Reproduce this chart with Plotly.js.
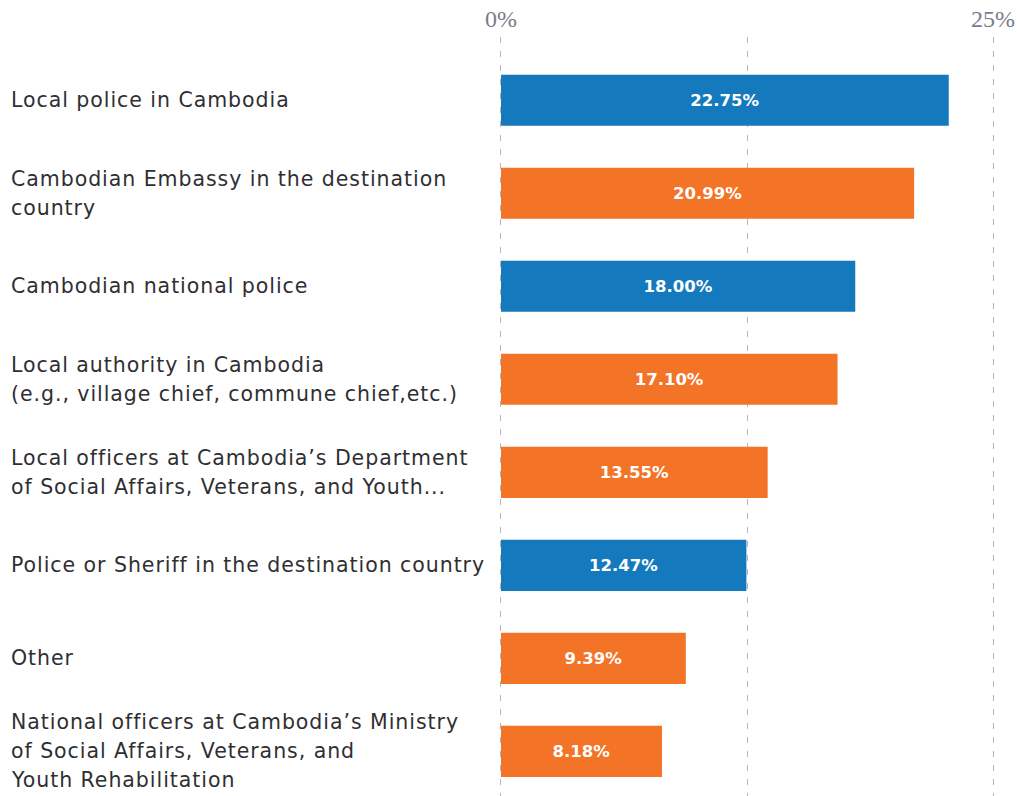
<!DOCTYPE html>
<html><head><meta charset="utf-8">
<script src="https://cdn.plot.ly/plotly-3.0.1.min.js"></script>
<style>
html,body{margin:0;padding:0;background:#fff}
.annotation-text{letter-spacing:0.95px}
</style>
</head><body>
<div id="chart" style="width:1017px;height:796px"></div>
<script>
const categories = [
  "Local police in Cambodia",
  "Cambodian Embassy in the destination<br>country",
  "Cambodian national police",
  "Local authority in Cambodia<br>(e.g., village chief, commune chief,etc.)",
  "Local officers at Cambodia’s Department<br>of Social Affairs, Veterans, and Youth...",
  "Police or Sheriff in the destination country",
  "Other",
  "National officers at Cambodia’s Ministry<br>of Social Affairs, Veterans, and<br>Youth Rehabilitation"
];
const values = [22.75, 20.99, 18.00, 17.10, 13.55, 12.47, 9.39, 8.18];
const barColors = ["#1479bd","#f37327","#1479bd","#f37327","#f37327","#1479bd","#f37327","#f37327"];
const tickVals = [0, 12.5, 25];
const tickText = ["0%", "", "25%"];

const ids = categories.map((c,i)=>"c"+i);

const trace = {
  type: "bar",
  orientation: "h",
  x: values,
  y: ids,
  width: 0.55,
  marker: {color: barColors},
  text: values.map(v => v.toFixed(2) + "%"),
  textposition: "inside",
  insidetextanchor: "middle",
  textangle: 0,
  textfont: {family: "DejaVu Sans", size: 16.5, color: "#ffffff", weight: 700},
  hoverinfo: "none",
  cliponaxis: false
};

const LINE_H = 29;
const annotations = [];
categories.forEach((c,i)=>{
  const lines = c.split("<br>");
  const n = lines.length;
  lines.forEach((ln,k)=>{
    annotations.push({
      xref: "paper", yref: "y",
      x: 0, y: ids[i],
      xanchor: "left", yanchor: "middle", align: "left",
      xshift: -490,
      yshift: ((n-1)/2 - k) * LINE_H,
      text: ln,
      showarrow: false,
      font: {family: "DejaVu Sans", size: 20.5, color: "#2f2f33"}
    });
  });
});

const layout = {
  width: 1017, height: 796,
  margin: {l: 499, r: 22, t: 37, b: 0},
  paper_bgcolor: "#ffffff",
  plot_bgcolor: "#ffffff",
  showlegend: false,
  bargap: 0.45,
  xaxis: {
    side: "top",
    range: [-0.1, 25.1],
    tickvals: tickVals,
    ticktext: tickText,
    showgrid: true,
    gridcolor: "#b5b5bd",
    griddash: "6px,8px",
    gridwidth: 1,
    zeroline: false,
    showline: false,
    ticks: "",
    tickfont: {family: "Liberation Serif", size: 24, color: "#7b7d8c"},
    ticklabelstandoff: 4,
    fixedrange: true
  },
  yaxis: {
    type: "category",
    categoryarray: ids,
    range: [7.48, -0.68],
    showticklabels: false,
    showgrid: false,
    zeroline: false,
    showline: false,
    ticks: "",
    fixedrange: true
  },
  annotations: annotations
};

Plotly.newPlot("chart", [trace], layout, {displayModeBar: false, staticPlot: true});
</script>
</body></html>
